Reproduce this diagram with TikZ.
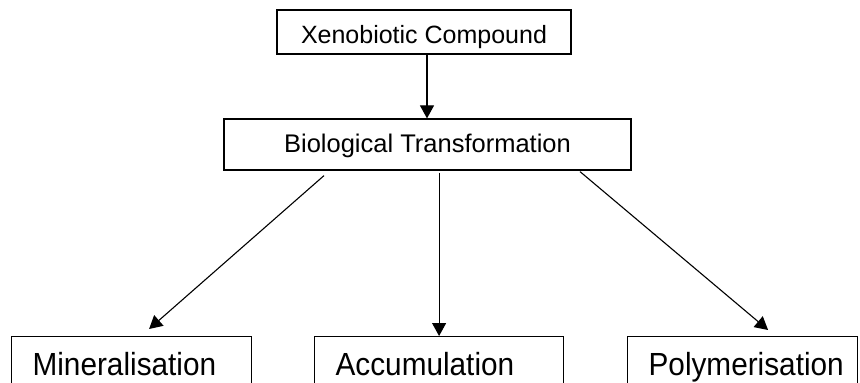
\documentclass[tikz,border=0pt]{standalone}
\usepackage{fontspec}
\setmainfont{Liberation Sans}
\newfontfamily\narrowfont[FakeStretch=0.93]{Liberation Sans}
\usetikzlibrary{arrows.meta}
\begin{document}
\begin{tikzpicture}[x=1pt,y=-1pt,
  box/.style={draw, line width=1.2pt, inner sep=0pt},
  topbox/.style={box, minimum width=294pt, minimum height=44pt, text height=22pt, text depth=0pt, font=\fontsize{25}{25}\selectfont},
  midbox/.style={box, minimum width=407pt, minimum height=51pt, text height=18pt, text depth=3pt, font=\fontsize{25.5}{25.5}\selectfont},
  lowbox/.style={box, anchor=north west, inner xsep=21pt, inner ysep=16pt, align=left, text height=23pt, text depth=0pt, font=\narrowfont\fontsize{32}{32}\selectfont},
  arr/.style={line width=1.1pt, -{Triangle[width=14pt,length=13pt]}}]
\useasboundingbox (0,0) rectangle (860,383);
\clip (0,0) rectangle (860,383);
\node[topbox] (xeno) at (424,32) {Xenobiotic Compound};
\node[midbox] (bio) at (427.5,144.5) {Biological Transformation};
\node[lowbox, text width=198pt] (mineral) at (11,336) {Mineralisation};
\node[lowbox, text width=207pt] (accum) at (314,336) {Accumulation};
\node[lowbox, text width=188pt] (poly) at (627,336) {Polymerisation};
\draw[arr] (xeno.south -| 427,0) -- (bio.north -| 427,0);
\draw[arr] ([xshift=-103.5pt,yshift=-5pt]bio.south) -- ([xshift=17.5pt,yshift=7pt]mineral.north);
\path (bio.south -| accum.north) coordinate (accstart);
\draw[arr] ([yshift=-2pt]accstart) -- (accum.north);
\draw[arr] ([xshift=152.5pt,yshift=-1pt]bio.south) -- ([xshift=25.5pt,yshift=6pt]poly.north);
\end{tikzpicture}
\end{document}
